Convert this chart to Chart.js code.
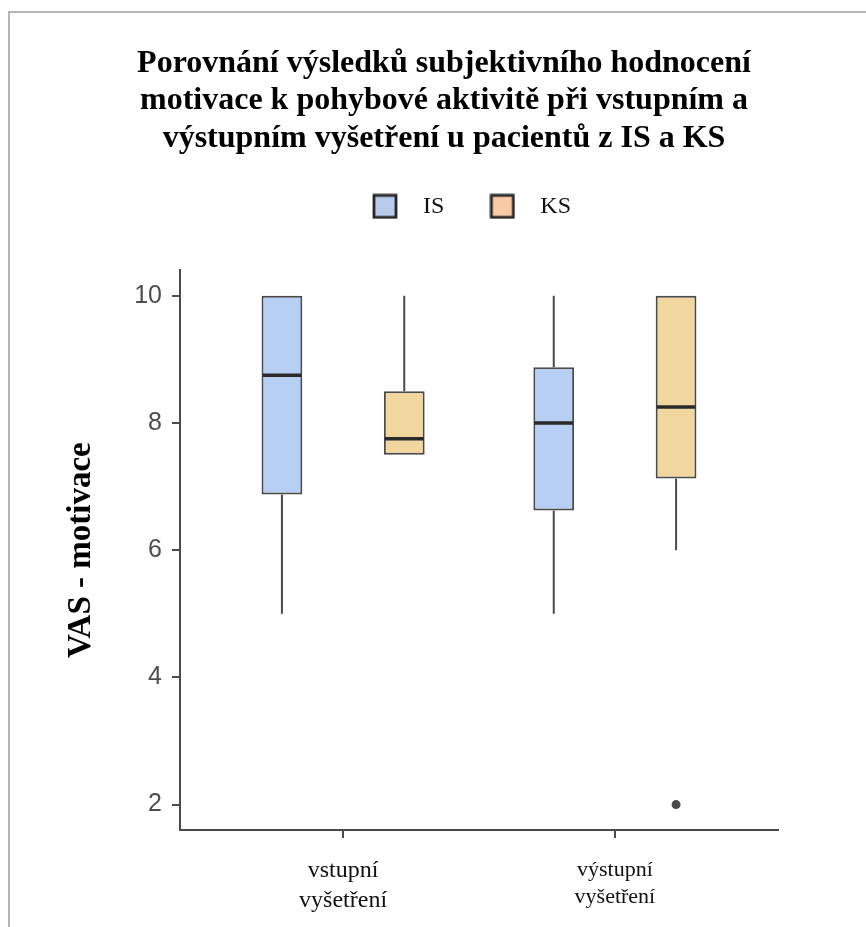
<!DOCTYPE html>
<html lang="cs">
<head>
<meta charset="utf-8">
<title>VAS - motivace</title>
<script src="https://cdn.jsdelivr.net/npm/chart.js@4/dist/chart.umd.min.js"></script>
<style>
  html, body { margin: 0; padding: 0; background: #ffffff; }
  #frame {
    position: absolute; left: 8px; top: 11px; right: 0; bottom: 0;
    border-top: 2px solid #b5b5b5; border-left: 2px solid #b5b5b5;
  }
  #chart { position: absolute; left: 0; top: 0; }
</style>
</head>
<body>
<div id="frame"></div>
<canvas id="chart" width="866" height="927"></canvas>
<script>
// Groups on the x axis and their two-line tick labels
const groups = ['vstupní vyšetření', 'výstupní vyšetření'];
const groupTickLabels = [['vstupní', 'vyšetření'], ['výstupní', 'vyšetření']];
const seriesNames = ['IS', 'KS'];

// Five-number summaries per group (VAS - motivace)
const isMin    = [5, 5];
const isQ1     = [6.875, 6.625];
const isMedian = [8.75, 8];
const isQ3     = [10, 8.875];
const isMax    = [10, 10];

const ksMin    = [7.5, 6];
const ksQ1     = [7.5, 7.125];
const ksMedian = [7.75, 8.25];
const ksQ3     = [8.5, 10];
const ksMax    = [10, 10];

const isOutliers = [[], []];
const ksOutliers = [[], [2]];

const yTicks = [2, 4, 6, 8, 10];

// Styling
const fillColors   = ['#B7CFF3', '#F2D6A0'];
const legendColors = ['#B9CBEA', '#F8CAA6'];
const lineColor = '#4a4a4a';
const medianColor = '#2a2a2a';
const dodge = 0.225;                      // half the spacing between IS and KS boxes
const serif = "'Liberation Serif', 'Times New Roman', serif";
const sans = "'Liberation Sans', Arial, sans-serif";

const summaries = [
  { min: isMin, q1: isQ1, median: isMedian, q3: isQ3, max: isMax, outliers: isOutliers },
  { min: ksMin, q1: ksQ1, median: ksMedian, q3: ksQ3, max: ksMax, outliers: ksOutliers }
];
const slotOffset = [-dodge, dodge];

// Boxes (Q1..Q3) as floating bars
const boxDatasets = summaries.map((s, si) => ({
  label: seriesNames[si],
  data: groups.map((g, gi) => ({ x: gi + 1 + slotOffset[si], y: [s.q1[gi], s.q3[gi]] })),
  backgroundColor: fillColors[si],
  borderColor: lineColor,
  borderWidth: 2,
  borderSkipped: false,
  grouped: false,
  categoryPercentage: 1,
  barPercentage: 1 / 3
}));

// Outlying observations as points
const outlierPoints = [];
summaries.forEach((s, si) => s.outliers.forEach((vals, gi) =>
  vals.forEach(v => outlierPoints.push({ x: gi + 1 + slotOffset[si], y: v }))));

const outlierDataset = {
  type: 'scatter',
  label: 'outliers',
  data: outlierPoints,
  pointRadius: 4.5,
  pointBackgroundColor: lineColor,
  pointBorderWidth: 0
};

// Legend swatches: square with dark outline
function makeSwatch(color) {
  const c = document.createElement('canvas');
  c.width = 26; c.height = 26;
  const g = c.getContext('2d');
  g.fillStyle = color;
  g.fillRect(2, 2, 22, 22);
  g.strokeStyle = '#262626';
  g.lineWidth = 2.8;
  g.strokeRect(2, 2, 22, 22);
  return c;
}
const swatches = legendColors.map(makeSwatch);

// Whiskers and medians drawn through the scales on top of the boxes
const boxPlotLines = {
  id: 'boxPlotLines',
  afterDatasetsDraw(chart) {
    const { ctx } = chart;
    const y = chart.scales.y;
    summaries.forEach((s, si) => {
      const meta = chart.getDatasetMeta(si);
      meta.data.forEach((bar, gi) => {
        const { x, width } = bar.getProps(['x', 'width'], true);
        ctx.save();
        ctx.strokeStyle = lineColor;
        ctx.lineWidth = 2;
        ctx.beginPath();
        if (s.max[gi] > s.q3[gi]) {
          ctx.moveTo(x, y.getPixelForValue(s.q3[gi]));
          ctx.lineTo(x, y.getPixelForValue(s.max[gi]));
        }
        if (s.min[gi] < s.q1[gi]) {
          ctx.moveTo(x, y.getPixelForValue(s.q1[gi]));
          ctx.lineTo(x, y.getPixelForValue(s.min[gi]));
        }
        ctx.stroke();
        ctx.strokeStyle = medianColor;
        ctx.lineWidth = 3.5;
        ctx.beginPath();
        const my = y.getPixelForValue(s.median[gi]);
        ctx.moveTo(x - width / 2 + 1, my);
        ctx.lineTo(x + width / 2 - 1, my);
        ctx.stroke();
        ctx.restore();
      });
    });
  }
};

// Places the title and legend blocks above the plot panel
const headerPlacement = {
  id: 'headerPlacement',
  afterLayout(chart, args, opts) {
    const t = chart.titleBlock;
    if (t) { t.left += opts.titleDx; t.right += opts.titleDx; }
    const l = chart.legend;
    if (l) {
      l.left += opts.legendDx; l.right += opts.legendDx;
      l.top += opts.legendDy; l.bottom += opts.legendDy;
    }
  }
};

new Chart(document.getElementById('chart'), {
  type: 'bar',
  data: { datasets: [...boxDatasets, outlierDataset] },
  options: {
    responsive: false,
    animation: false,
    events: [],
    layout: { padding: { left: 0, right: 88, top: 0, bottom: 0 } },
    plugins: {
      tooltip: { enabled: false },
      title: {
        display: true,
        text: [
          'Porovnání výsledků subjektivního hodnocení',
          'motivace k pohybové aktivitě při vstupním a',
          'výstupním vyšetření u pacientů z IS a KS'
        ],
        color: '#000000',
        font: { family: serif, size: 32, weight: 'bold', lineHeight: 1.17 },
        padding: { top: 45, bottom: 47 }
      },
      legend: {
        display: true,
        position: 'top',
        fullSize: false,
        labels: {
          usePointStyle: true,
          pointStyleWidth: 52,
          padding: 32,
          color: '#111111',
          font: { family: serif, size: 24 },
          generateLabels: () => seriesNames.map((name, i) => ({
            text: name,
            pointStyle: swatches[i],
            datasetIndex: i,
            hidden: false,
            fontColor: '#111111',
            fillStyle: legendColors[i],
            strokeStyle: '#262626',
            lineWidth: 0
          }))
        }
      },
      headerPlacement: { titleDx: 55, legendDx: -14, legendDy: -42 }
    },
    scales: {
      x: {
        type: 'linear',
        position: 'bottom',
        min: 0.4,
        max: 2.6,
        offset: false,
        afterBuildTicks: (scale) => { scale.ticks = groups.map((g, i) => ({ value: i + 1 })); },
        afterFit: (scale) => { scale.height = 97; },
        grid: { display: true, drawOnChartArea: false, drawTicks: true, tickLength: 8, color: lineColor, lineWidth: 2, offset: false },
        border: { display: true, color: lineColor, width: 2 },
        ticks: {
          autoSkip: false,
          maxRotation: 0,
          padding: 18,
          color: '#111111',
          font: (ctx) => ({ family: serif, size: ctx.index === 1 ? 22 : 24, lineHeight: 1.25 }),
          callback: (value) => groupTickLabels[Math.round(value) - 1]
        }
      },
      y: {
        type: 'linear',
        min: 1.6,
        max: 10.4,
        afterBuildTicks: (scale) => { scale.ticks = yTicks.map(v => ({ value: v })); },
        afterFit: (scale) => { scale.width = 180; },
        grid: { display: true, drawOnChartArea: false, drawTicks: true, tickLength: 8, color: lineColor, lineWidth: 2 },
        border: { display: true, color: lineColor, width: 2 },
        ticks: {
          padding: 10,
          color: '#4d4d4d',
          font: { family: sans, size: 25 },
          callback: (value) => String(value)
        },
        title: {
          display: true,
          text: 'VAS - motivace',
          color: '#000000',
          font: { family: serif, size: 33, weight: 'bold', lineHeight: 1.2 },
          padding: { top: 62, bottom: 0 }
        }
      }
    }
  },
  plugins: [boxPlotLines, headerPlacement]
});
</script>
</body>
</html>
